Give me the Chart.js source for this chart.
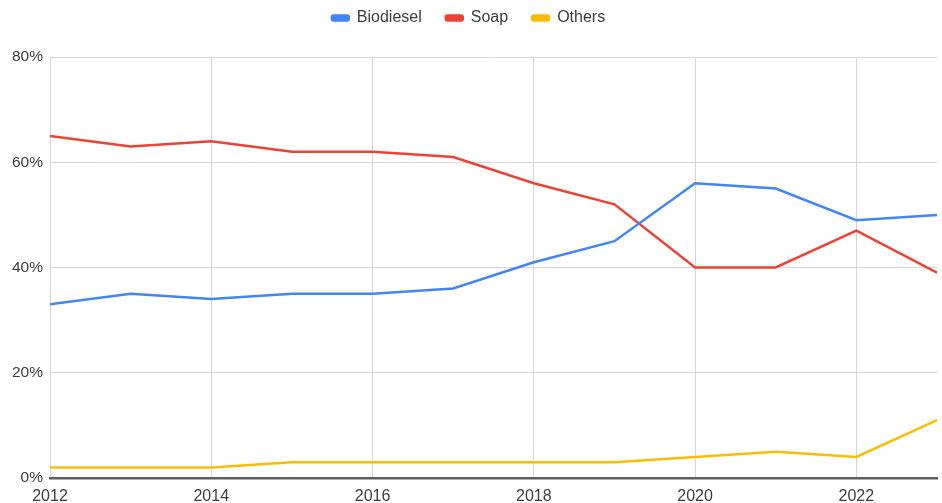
<!DOCTYPE html>
<html>
<head>
<meta charset="utf-8">
<script src="https://cdn.jsdelivr.net/npm/chart.js@4/dist/chart.umd.min.js"></script>
<style>
    html, body { margin: 0; padding: 0; background: #fff; }
    #wrap { width: 942px; height: 503px; position: relative; }
</style>
</head>
<body>
<div id="wrap"><canvas id="usage-chart"></canvas></div>
<script>
// share of glycerine use by sector, percent
const years = [2012, 2013, 2014, 2015, 2016, 2017, 2018, 2019, 2020, 2021, 2022, 2023];
const biodiesel = [33, 35, 34, 35, 35, 36, 41, 45, 56, 55, 49, 50];
const soap = [65, 63, 64, 62, 62, 61, 56, 52, 40, 40, 47, 39];
const others = [2, 2, 2, 3, 3, 3, 3, 3, 4, 5, 4, 11];

const toPoints = vals => vals.map((v, i) => ({ x: years[i], y: v }));

function series(label, vals, color) {
    return {
        label: label,
        data: toPoints(vals),
        borderColor: color,
        backgroundColor: color,
        borderWidth: 2.5,
        pointRadius: 0,
        tension: 0,
        fill: false
    };
}

// extra room under the legend, and lift the legend itself a bit
const legendSpacing = {
    id: 'legendSpacing',
    beforeInit(chart) {
        const origFit = chart.legend.fit;
        chart.legend.fit = function () {
            origFit.bind(chart.legend)();
            this.height += 7;
        };
    },
    afterLayout(chart) {
        chart.legend.top -= 14;
        chart.legend.bottom -= 14;
    }
};

Chart.defaults.font.family = '"Liberation Sans", Arial, sans-serif';
Chart.defaults.color = '#3c3c3c';

const ctx = document.getElementById('usage-chart').getContext('2d');
new Chart(ctx, {
    type: 'line',
    data: {
        datasets: [
            series('Biodiesel', biodiesel, '#4285F4'),
            series('Soap', soap, '#EA4335'),
            series('Others', others, '#FBBC04')
        ]
    },
    plugins: [legendSpacing],
    options: {
        responsive: true,
        maintainAspectRatio: false,
        animation: false,
        layout: { padding: { top: 0, right: 5, left: 0, bottom: 0 } },
        plugins: {
            legend: {
                position: 'top',
                align: 'center',
                labels: {
                    boxWidth: 17,
                    boxHeight: 5,
                    useBorderRadius: true,
                    borderRadius: 2,
                    padding: 24,
                    font: { size: 16 }
                }
            },
            tooltip: { enabled: false }
        },
        scales: {
            x: {
                type: 'linear',
                min: 2012,
                max: 2023,
                grid: { color: '#d6d6d6', lineWidth: 1, drawTicks: false },
                border: { color: '#5f5f5f', width: 2.5 },
                ticks: {
                    stepSize: 2,
                    includeBounds: false,
                    maxRotation: 0,
                    padding: 9,
                    font: { size: 16 },
                    callback: v => String(v)
                },
                afterFit: s => { s.height = 25; }
            },
            y: {
                min: 0,
                max: 80,
                grid: { color: '#d6d6d6', lineWidth: 1, drawTicks: false },
                border: { display: false },
                ticks: {
                    stepSize: 20,
                    padding: 7,
                    font: { size: 15.5 },
                    callback: v => v + '%'
                },
                afterFit: s => { s.width = 50; }
            }
        }
    }
});
</script>
</body>
</html>
